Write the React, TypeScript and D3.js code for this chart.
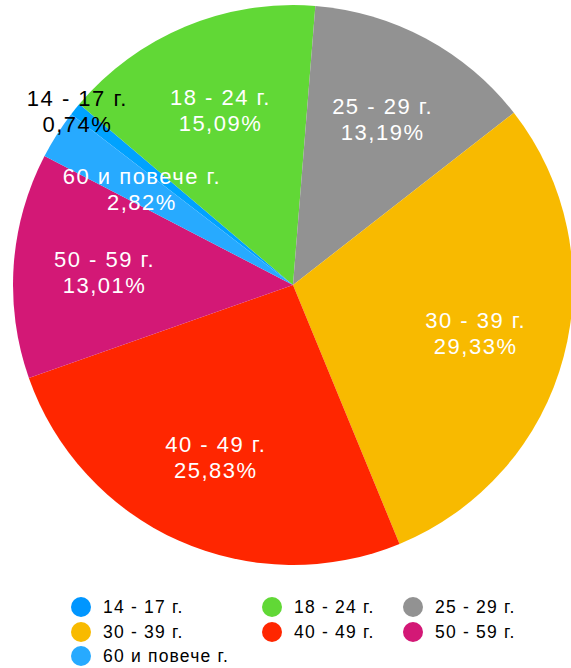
import React, { useEffect, useRef } from 'react';
import * as d3 from 'd3';

const categories = ['14 - 17 г.', '18 - 24 г.', '25 - 29 г.', '30 - 39 г.', '40 - 49 г.', '50 - 59 г.', '60 и повече г.'];
const shares = [0.74, 15.09, 13.19, 29.33, 25.83, 13.01, 2.82];
const shareLabels = ['0,74%', '15,09%', '13,19%', '29,33%', '25,83%', '13,01%', '2,82%'];
const colors = ['#00a2ff', '#61d836', '#929292', '#f8ba00', '#ff2600', '#d31876', '#27aaff'];

const W = 571;
const H = 668;

const App = () => {
    const ref = useRef(null);

    useEffect(() => {
        const svg = d3.select(ref.current);
        svg.selectAll('*').remove();

        const cx = 293, cy = 285, r = 280;
        const font = '"Liberation Sans", Helvetica, Arial, sans-serif';
        const start = -52.4 * Math.PI / 180;

        const data = categories.map((c, i) => ({ name: c, value: shares[i], label: shareLabels[i], color: colors[i] }));

        const pie = d3.pie().sort(null).value(d => d.value)
            .startAngle(start).endAngle(start + 2 * Math.PI);
        const arcs = pie(data);

        const arc = d3.arc().innerRadius(0).outerRadius(r);

        const g = svg.append('g').attr('transform', `translate(${cx},${cy})`);

        g.selectAll('path')
            .data(arcs)
            .enter().append('path')
            .attr('d', arc)
            .attr('fill', d => d.data.color);

        // labels: inside for most slices, on the rim for the tiny one
        const labelR = i => (i === 0 ? r * 0.99 : i === 6 ? r * 0.64 : r * 0.675);

        arcs.forEach((a, i) => {
            const mid = (a.startAngle + a.endAngle) / 2;
            const lr = labelR(i);
            const x = lr * Math.sin(mid);
            const y = -lr * Math.cos(mid);
            const t = g.append('text')
                .attr('text-anchor', 'middle')
                .attr('font-family', font)
                .attr('font-size', 22)
                .attr('letter-spacing', 1.5)
                .attr('fill', i === 0 ? '#000' : '#fff');
            t.append('tspan').attr('x', x).attr('y', y - 5).text(a.data.name);
            t.append('tspan').attr('x', x).attr('y', y + 21).text(a.data.label);
        });

        // legend
        const colX = [81, 272, 413];
        const rowY = [607, 632, 656];
        const legend = svg.append('g')
            .attr('font-family', font)
            .attr('font-size', 17.5)
            .attr('letter-spacing', 1.2)
            .selectAll('g')
            .data(data)
            .enter().append('g')
            .attr('transform', (d, i) => `translate(${colX[i % 3]},${rowY[Math.floor(i / 3)]})`);

        legend.append('circle')
            .attr('r', 10)
            .attr('fill', (d, i) => (i === 0 ? '#0096ff' : d.color));

        legend.append('text')
            .attr('x', 22)
            .attr('dy', '0.35em')
            .attr('fill', '#000')
            .text(d => d.name);
    }, []);

    return (
        <svg
            width={W}
            height={H}
            ref={ref}
            style={{ position: 'absolute', left: 0, top: 0, background: '#fff' }}
        />
    );
};

export default App;
